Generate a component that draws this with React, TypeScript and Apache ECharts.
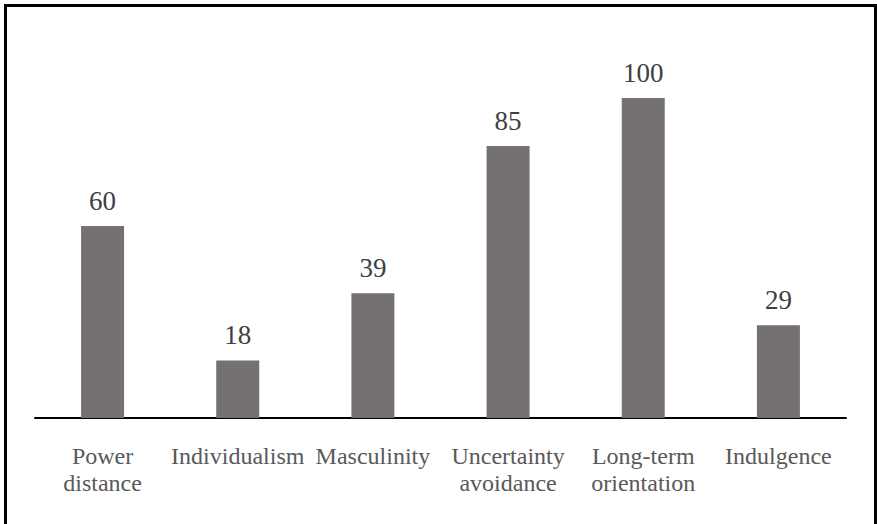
import React, { useEffect, useRef } from "react";
import * as echarts from "echarts";

const categories = [
  "Power\ndistance",
  "Individualism",
  "Masculinity",
  "Uncertainty\navoidance",
  "Long-term\norientation",
  "Indulgence",
];
const values = [60, 18, 39, 85, 100, 29];

const SERIF = "'Times New Roman', 'Liberation Serif', serif";

export default function App() {
  const ref = useRef<HTMLDivElement>(null);
  useEffect(() => {
    if (!ref.current) return;
    const chart = echarts.init(ref.current, null, { renderer: "svg" });
    chart.setOption({
      animation: false,
      backgroundColor: "#ffffff",
      textStyle: { fontFamily: SERIF },
      grid: { left: 35, right: 31, top: 66, bottom: 106, containLabel: false },
      xAxis: {
        type: "category",
        data: categories,
        axisLine: { show: true, lineStyle: { color: "#000000", width: 2 } },
        axisTick: { show: false },
        axisLabel: {
          interval: 0,
          margin: 24,
          color: "#595959",
          fontFamily: SERIF,
          fontSize: 24,
          lineHeight: 27,
        },
      },
      yAxis: {
        type: "value",
        min: 0,
        max: 110,
        show: false,
        splitLine: { show: false },
      },
      series: [
        {
          type: "bar",
          data: values,
          barWidth: 43,
          itemStyle: { color: "#767171" },
          label: {
            show: true,
            position: "top",
            distance: 12,
            color: "#404040",
            fontFamily: SERIF,
            fontSize: 27,
          },
        },
      ],
    });
    return () => chart.dispose();
  }, []);
  return (
    <div style={{ position: "absolute", left: 0, top: 0, width: 877, height: 524, background: "#fff", fontFamily: SERIF }}>
      <div ref={ref} style={{ position: "absolute", left: 0, top: 0, width: 877, height: 524 }} />
      <div
        style={{
          position: "absolute",
          left: 4,
          top: 4,
          width: 867,
          height: 520,
          borderTop: "3px solid #000",
          borderLeft: "3px solid #000",
          borderRight: "3px solid #000",
          pointerEvents: "none",
        }}
      />
    </div>
  );
}
